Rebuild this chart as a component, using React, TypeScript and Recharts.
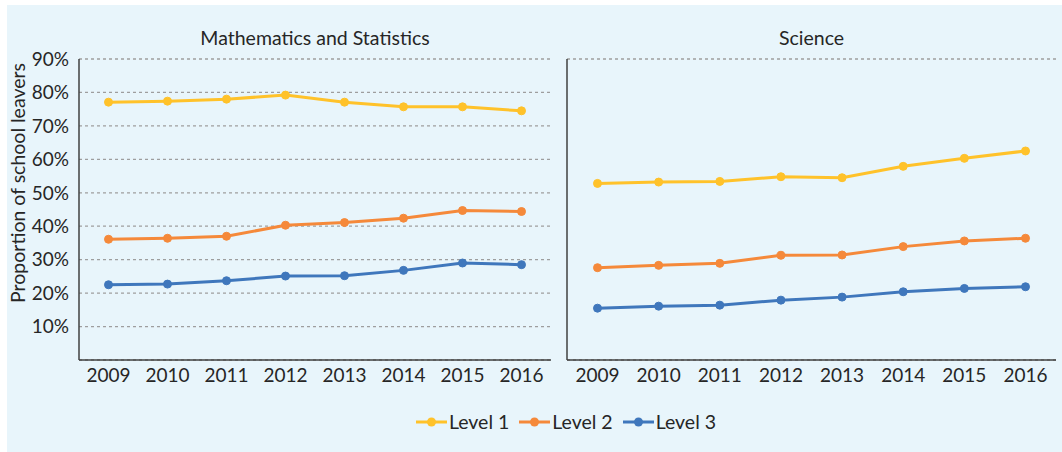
import React from 'react';
import { LineChart, Line, XAxis, YAxis, CartesianGrid } from 'recharts';

const YEARS = ['2009', '2010', '2011', '2012', '2013', '2014', '2015', '2016'];

// Mathematics and Statistics (% of school leavers)
const MATH_L1 = [77.1, 77.4, 78.0, 79.2, 77.1, 75.7, 75.7, 74.5];
const MATH_L2 = [36.1, 36.4, 37.0, 40.3, 41.1, 42.4, 44.7, 44.4];
const MATH_L3 = [22.5, 22.7, 23.7, 25.1, 25.2, 26.8, 29.0, 28.5];

// Science
const SCI_L1 = [52.8, 53.2, 53.4, 54.8, 54.5, 57.9, 60.3, 62.5];
const SCI_L2 = [27.6, 28.3, 28.9, 31.3, 31.4, 33.9, 35.6, 36.4];
const SCI_L3 = [15.5, 16.1, 16.4, 17.9, 18.8, 20.4, 21.4, 21.9];

const Y_TICKS = [10, 20, 30, 40, 50, 60, 70, 80, 90];

const SERIES = [
  { key: 'l1', name: 'Level 1', color: '#FFC22A' },
  { key: 'l2', name: 'Level 2', color: '#F5893A' },
  { key: 'l3', name: 'Level 3', color: '#3F77BC' },
];

const FONT = 'Lato, "Open Sans", sans-serif';
const TEXT = '#262626';
const AXIS = '#404040';

const buildRows = (a: number[], b: number[], c: number[]) =>
  YEARS.map((year, i) => ({ year, l1: a[i], l2: b[i], l3: c[i] }));

const mathData = buildRows(MATH_L1, MATH_L2, MATH_L3);
const sciData = buildRows(SCI_L1, SCI_L2, SCI_L3);

function Panel({ data, showTicks, width, pad, marginRight }: any) {
  return (
    <LineChart width={width} height={400} data={data} margin={{ top: 59, right: marginRight, left: 0, bottom: 0 }}>
      <CartesianGrid vertical={false} stroke="#9E9E9E" strokeDasharray="3 3" strokeWidth={1.3} />
      <XAxis
        dataKey="year"
        height={40}
        padding={{ left: pad, right: pad }}
        tickLine={false}
        axisLine={{ stroke: AXIS, strokeWidth: 1.5 }}
        tick={{ fill: TEXT, fontSize: 19, fontFamily: FONT }}
        tickMargin={3}
        interval={0}
      />
      <YAxis
        domain={[0, 90]}
        ticks={Y_TICKS}
        width={showTicks ? 79 : 7}
        tickLine={false}
        tick={showTicks ? { fill: TEXT, fontSize: 19, fontFamily: FONT } : false}
        tickFormatter={(v) => `${v}%`}
        tickMargin={4}
        axisLine={{ stroke: AXIS, strokeWidth: 1.5 }}
      />
      {SERIES.map((s) => (
        <Line
          key={s.key}
          dataKey={s.key}
          name={s.name}
          type="linear"
          stroke={s.color}
          strokeWidth={3}
          dot={{ r: 4, fill: s.color, stroke: s.color, strokeWidth: 1 }}
          isAnimationActive={false}
        />
      ))}
    </LineChart>
  );
}

export default function App() {
  return (
    <div style={{ position: 'absolute', left: 0, top: 0, width: 1062, height: 452, background: '#fff', fontFamily: FONT, color: TEXT, overflow: 'hidden' }}>
      <div style={{ position: 'absolute', left: 7, top: 5, width: 1055, height: 447, background: '#E8F5FB' }} />

      <div style={{ position: 'absolute', left: 79, top: 27, width: 472, textAlign: 'center', fontSize: 19.5, lineHeight: '22px' }}>
        Mathematics and Statistics
      </div>
      <div style={{ position: 'absolute', left: 567, top: 27, width: 489, textAlign: 'center', fontSize: 19.5, lineHeight: '22px' }}>
        Science
      </div>

      <div
        style={{
          position: 'absolute',
          left: 18 - 150,
          top: 183 - 11,
          width: 300,
          height: 22,
          lineHeight: '22px',
          textAlign: 'center',
          fontSize: 19.5,
          transform: 'rotate(-90deg)',
        }}
      >
        Proportion of school leavers
      </div>

      <div style={{ position: 'absolute', left: 0, top: 0 }}>
        <Panel data={mathData} showTicks width={560} pad={29.5} marginRight={9} />
      </div>
      <div style={{ position: 'absolute', left: 560, top: 0 }}>
        <Panel data={sciData} showTicks={false} width={502} pad={30.5} marginRight={6} />
      </div>

      <div style={{ position: 'absolute', left: 0, top: 411, width: 1132, display: 'flex', justifyContent: 'center', columnGap: 10, fontSize: 19.5, lineHeight: '22px' }}>
        {SERIES.map((s) => (
          <div key={s.key} style={{ display: 'flex', alignItems: 'center' }}>
            <svg width={31} height={12} style={{ marginRight: 2 }}>
              <line x1={0} y1={6} x2={31} y2={6} stroke={s.color} strokeWidth={3} />
              <circle cx={15.5} cy={6} r={4.5} fill={s.color} />
            </svg>
            <span>{s.name}</span>
          </div>
        ))}
      </div>
    </div>
  );
}
